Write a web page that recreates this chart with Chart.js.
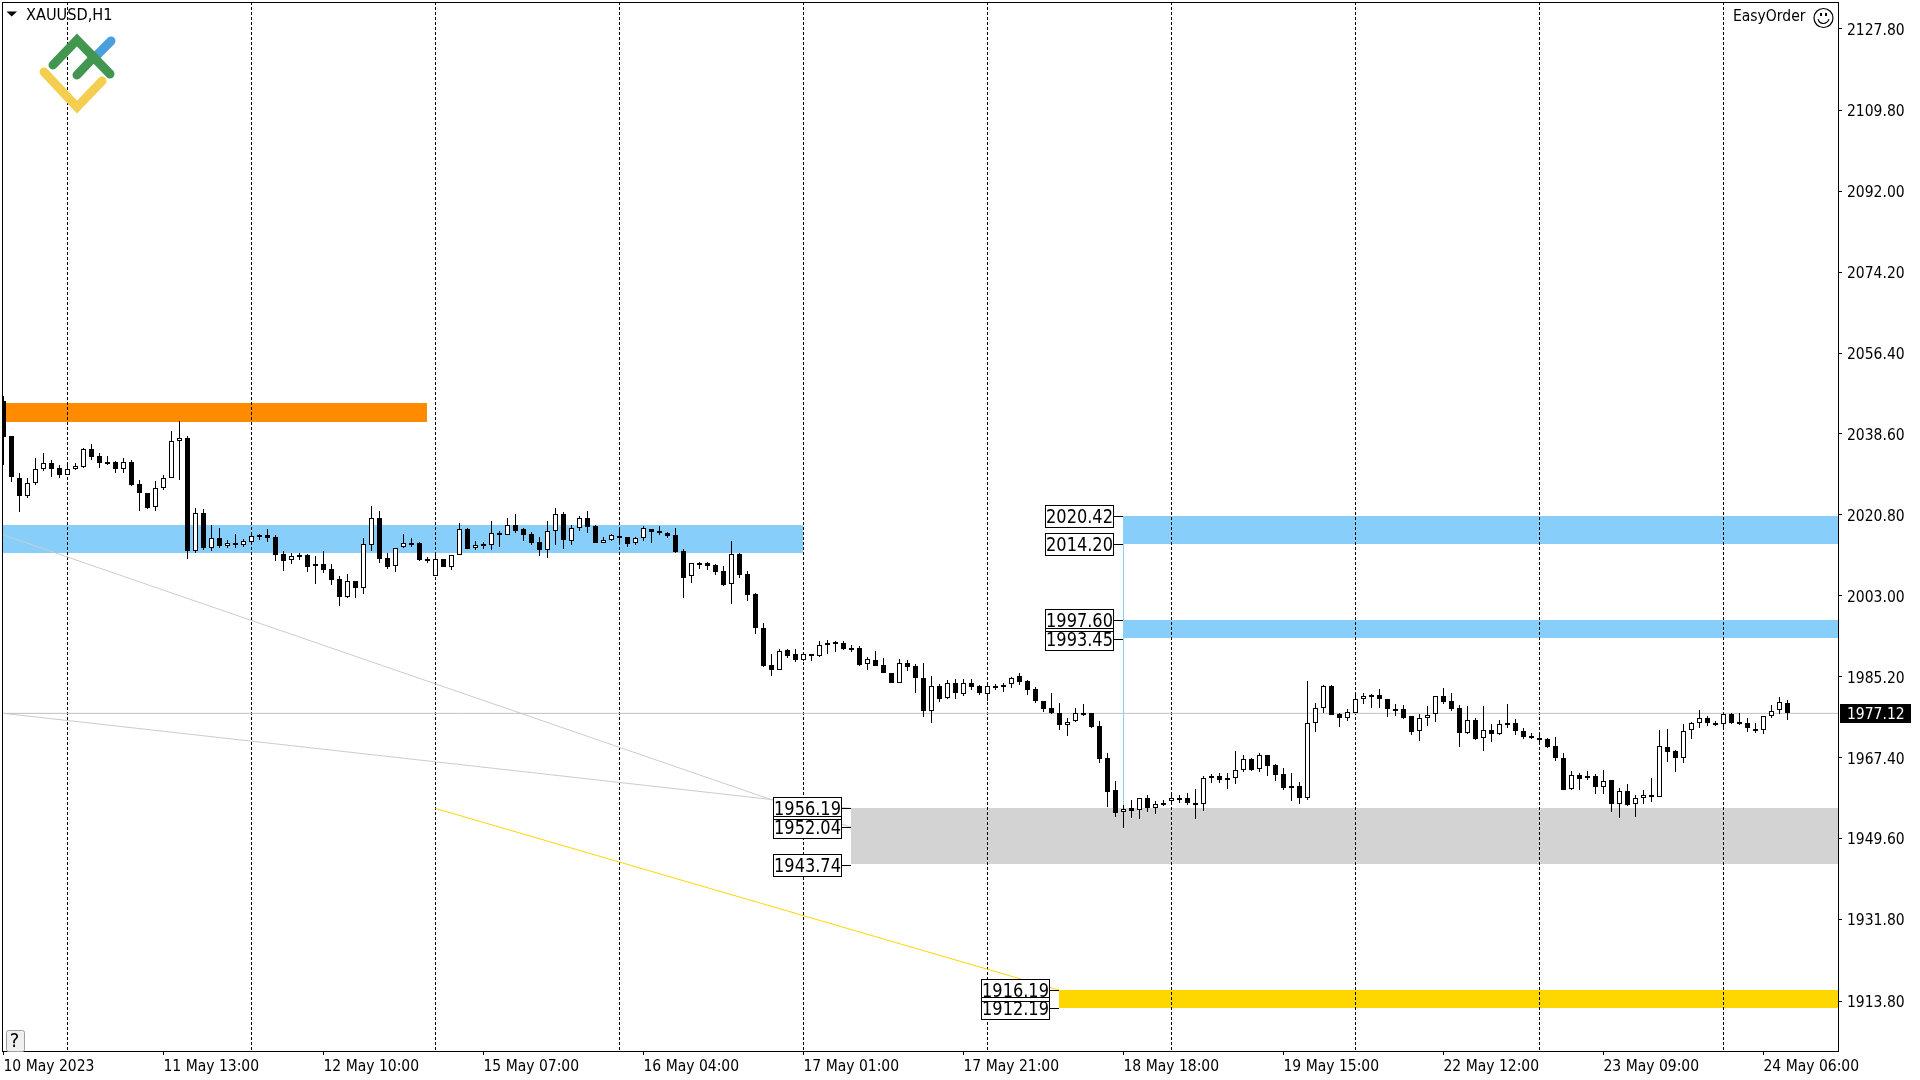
<!DOCTYPE html>
<html>
<head>
<meta charset="utf-8">
<title>XAUUSD,H1</title>
<script src="https://cdn.jsdelivr.net/npm/chart.js@4/dist/chart.umd.min.js"></script>
<style>
  html, body { margin: 0; padding: 0; background: #fff; }
  canvas { display: block; }
</style>
</head>
<body>
<canvas id="priceChart" width="1920" height="1080"></canvas>
<script>
// H1 candles, bar 0 is the left edge
const opens = [
  2045.8, 2038.1, 2029.0, 2025.0, 2027.9, 2030.9, 2032.1, 2031.0, 2029.6, 2030.8,
  2031.4, 2035.2, 2033.7, 2032.4, 2032.4, 2030.9, 2032.4, 2027.5, 2025.5, 2022.6,
  2026.8, 2029.0, 2037.0, 2037.6, 2012.8, 2021.3, 2013.6, 2015.8, 2014.0, 2014.5,
  2014.2, 2014.9, 2016.4, 2016.4, 2015.9, 2012.2, 2010.8, 2012.0, 2012.0, 2010.0,
  2010.0, 2008.9, 2006.6, 2002.8, 2006.2, 2004.8, 2014.1, 2020.0, 2011.4, 2009.5,
  2013.7, 2014.6, 2014.5, 2011.0, 2007.4, 2011.0, 2009.4, 2012.0, 2017.6, 2013.4,
  2014.4, 2014.2, 2016.8, 2016.4, 2018.5, 2017.6, 2016.6, 2014.8, 2013.1, 2017.2,
  2021.0, 2015.1, 2017.8, 2020.2, 2018.3, 2014.7, 2015.2, 2016.1, 2015.9, 2014.5,
  2015.6, 2017.6, 2017.2, 2016.9, 2016.3, 2012.8, 2007.3, 2010.2, 2010.1, 2009.7,
  2008.4, 2005.5, 2012.1, 2007.8, 2003.3, 1996.0, 1987.7, 1986.7, 1991.0, 1990.1,
  1988.8, 1990.1, 1989.7, 1992.1, 1992.8, 1992.7, 1991.5, 1991.4, 1987.9, 1988.8,
  1987.7, 1986.1, 1983.9, 1988.2, 1987.5, 1984.8, 1977.6, 1983.1, 1980.4, 1983.9,
  1981.4, 1983.9, 1983.1, 1981.3, 1983.1, 1982.9, 1983.5, 1985.3, 1984.2, 1982.4,
  1979.8, 1978.2, 1977.3, 1974.6, 1975.4, 1977.3, 1977.1, 1974.3, 1967.2, 1960.2,
  1955.5, 1956.2, 1955.8, 1958.6, 1956.4, 1957.5, 1957.8, 1958.4, 1958.4, 1957.5,
  1957.1, 1962.8, 1963.3, 1962.8, 1962.8, 1964.6, 1967.0, 1964.8, 1967.9, 1965.7,
  1963.7, 1961.1, 1961.1, 1958.6, 1974.9, 1978.4, 1983.1, 1976.9, 1976.2, 1977.3,
  1980.2, 1981.2, 1981.1, 1980.2, 1978.1, 1978.0, 1976.5, 1973.2, 1976.2, 1976.9,
  1980.9, 1979.8, 1978.2, 1972.9, 1975.6, 1971.6, 1973.4, 1972.5, 1974.5, 1975.1,
  1973.2, 1972.1, 1971.8, 1971.4, 1969.9, 1967.2, 1960.4, 1963.6, 1962.8, 1963.3,
  1961.0, 1962.5, 1957.2, 1960.0, 1957.1, 1958.4, 1959.1, 1958.8, 1969.7, 1968.8,
  1967.4, 1973.4, 1974.9, 1976.2, 1975.1, 1974.7, 1976.9, 1975.2, 1975.1, 1973.6,
  1973.4, 1976.5, 1977.8, 1979.5
];
const highs = [
  2046.9, 2038.1, 2029.9, 2028.8, 2033.4, 2034.3, 2032.8, 2031.7, 2031.7, 2032.1,
  2035.4, 2036.3, 2034.3, 2033.7, 2032.6, 2033.2, 2032.8, 2028.5, 2025.7, 2028.2,
  2029.6, 2039.2, 2041.4, 2038.1, 2022.2, 2022.0, 2018.5, 2017.9, 2015.2, 2016.5,
  2015.4, 2016.3, 2016.5, 2017.6, 2016.3, 2012.8, 2012.3, 2012.3, 2012.2, 2011.7,
  2012.8, 2010.0, 2007.3, 2007.8, 2006.2, 2015.8, 2022.7, 2021.6, 2012.3, 2013.6,
  2016.5, 2015.6, 2014.8, 2011.5, 2012.0, 2011.0, 2012.0, 2019.0, 2017.8, 2015.0,
  2014.8, 2019.4, 2017.2, 2020.1, 2021.0, 2017.9, 2017.0, 2015.9, 2019.4, 2022.2,
  2021.4, 2018.5, 2020.5, 2021.6, 2018.5, 2015.9, 2016.6, 2017.6, 2015.9, 2015.9,
  2018.3, 2017.6, 2018.3, 2017.0, 2017.9, 2013.2, 2010.3, 2010.5, 2010.4, 2010.0,
  2009.5, 2015.0, 2012.5, 2008.4, 2003.7, 1997.1, 1990.2, 1991.3, 1991.2, 1991.2,
  1990.3, 1990.1, 1993.0, 1993.3, 1993.0, 1993.0, 1992.2, 1991.9, 1989.5, 1990.8,
  1989.3, 1986.1, 1989.1, 1988.9, 1988.0, 1988.2, 1985.3, 1983.6, 1984.4, 1984.6,
  1984.6, 1984.6, 1983.3, 1983.3, 1983.6, 1983.7, 1985.2, 1986.1, 1984.4, 1982.9,
  1979.8, 1981.5, 1979.5, 1976.2, 1978.2, 1979.1, 1977.2, 1975.4, 1968.3, 1962.2,
  1956.9, 1958.0, 1958.6, 1959.2, 1957.8, 1958.0, 1959.5, 1959.2, 1959.7, 1960.5,
  1963.3, 1963.7, 1964.1, 1963.9, 1968.8, 1968.0, 1967.4, 1968.3, 1968.0, 1965.9,
  1965.1, 1964.0, 1962.0, 1984.2, 1979.4, 1983.4, 1983.4, 1977.3, 1978.0, 1981.8,
  1981.5, 1981.4, 1982.5, 1980.3, 1979.2, 1978.9, 1976.5, 1976.9, 1978.7, 1980.9,
  1982.7, 1981.6, 1978.9, 1978.7, 1976.0, 1978.7, 1974.8, 1975.6, 1979.2, 1975.8,
  1973.8, 1972.8, 1972.8, 1971.6, 1971.9, 1968.5, 1964.4, 1964.1, 1964.4, 1963.7,
  1964.7, 1962.5, 1960.8, 1961.6, 1959.1, 1960.2, 1962.9, 1973.5, 1973.7, 1969.1,
  1974.8, 1975.2, 1977.9, 1976.5, 1975.4, 1977.3, 1977.3, 1977.2, 1976.0, 1975.0,
  1976.5, 1978.9, 1980.7, 1980.0
];
const lows = [
  2031.8, 2028.1, 2021.5, 2024.6, 2027.4, 2030.4, 2029.2, 2029.0, 2029.5, 2030.7,
  2031.2, 2032.9, 2031.2, 2031.8, 2030.1, 2030.1, 2027.1, 2021.7, 2022.0, 2021.7,
  2026.3, 2028.8, 2028.5, 2011.1, 2012.5, 2013.1, 2012.8, 2013.6, 2013.6, 2013.6,
  2013.7, 2014.7, 2015.3, 2014.8, 2010.6, 2008.4, 2010.0, 2010.9, 2008.3, 2005.6,
  2008.1, 2005.4, 2000.7, 2002.5, 2002.5, 2003.4, 2012.8, 2010.1, 2008.9, 2008.3,
  2013.4, 2013.8, 2010.7, 2010.3, 2007.3, 2009.3, 2008.7, 2012.0, 2013.3, 2013.1,
  2013.3, 2013.1, 2013.7, 2016.4, 2016.9, 2015.0, 2014.2, 2011.7, 2011.4, 2014.2,
  2013.3, 2014.2, 2017.2, 2016.8, 2014.6, 2014.5, 2015.0, 2014.5, 2013.7, 2014.2,
  2015.1, 2014.6, 2016.4, 2015.7, 2012.5, 2002.5, 2005.8, 2008.9, 2008.7, 2007.6,
  2005.1, 2001.2, 2006.9, 2001.8, 1994.6, 1987.4, 1985.3, 1986.7, 1989.4, 1988.5,
  1988.6, 1988.6, 1989.6, 1990.1, 1990.7, 1991.1, 1990.6, 1987.6, 1986.7, 1987.6,
  1985.9, 1983.9, 1983.7, 1986.5, 1981.6, 1976.3, 1975.1, 1979.7, 1980.2, 1980.3,
  1981.0, 1982.2, 1981.2, 1979.8, 1982.3, 1981.9, 1982.6, 1983.4, 1981.2, 1979.5,
  1977.4, 1977.0, 1973.5, 1972.1, 1975.2, 1976.5, 1973.8, 1966.3, 1956.5, 1954.3,
  1951.9, 1954.1, 1953.9, 1955.4, 1955.0, 1956.8, 1957.2, 1957.5, 1957.0, 1953.9,
  1955.6, 1961.8, 1961.8, 1960.5, 1961.6, 1964.3, 1964.5, 1964.3, 1963.3, 1962.2,
  1960.3, 1957.8, 1957.2, 1958.1, 1973.0, 1977.2, 1976.8, 1974.1, 1975.4, 1977.1,
  1979.2, 1978.3, 1978.3, 1976.3, 1976.6, 1975.9, 1972.4, 1971.0, 1974.3, 1975.2,
  1979.2, 1977.6, 1969.7, 1972.6, 1971.3, 1968.8, 1970.8, 1972.4, 1973.9, 1972.4,
  1971.5, 1971.5, 1970.6, 1969.5, 1966.6, 1960.3, 1960.3, 1960.3, 1962.5, 1959.4,
  1959.4, 1955.4, 1954.1, 1956.8, 1954.4, 1957.2, 1957.6, 1958.8, 1966.4, 1964.2,
  1966.2, 1971.5, 1973.9, 1974.3, 1974.3, 1974.2, 1974.7, 1974.6, 1973.0, 1972.8,
  1972.6, 1976.2, 1977.0, 1975.7
];
const closes = [
  2038.0, 2029.2, 2025.0, 2027.9, 2030.9, 2032.3, 2030.9, 2029.6, 2030.8, 2031.5,
  2035.2, 2033.6, 2032.3, 2032.0, 2030.9, 2032.4, 2027.4, 2025.7, 2022.4, 2026.8,
  2029.0, 2037.0, 2037.6, 2012.9, 2021.3, 2013.6, 2015.8, 2014.0, 2014.5, 2014.2,
  2015.0, 2016.1, 2016.1, 2015.8, 2012.0, 2010.7, 2011.7, 2011.6, 2009.4, 2009.7,
  2008.7, 2006.5, 2002.8, 2006.2, 2004.8, 2014.3, 2020.0, 2011.1, 2009.4, 2013.6,
  2014.5, 2014.4, 2010.9, 2010.7, 2011.0, 2009.3, 2011.9, 2017.6, 2013.3, 2014.1,
  2014.1, 2016.9, 2016.4, 2018.5, 2017.2, 2016.4, 2014.6, 2013.1, 2017.2, 2020.9,
  2015.3, 2017.8, 2020.2, 2018.2, 2014.6, 2015.2, 2016.3, 2015.8, 2014.4, 2015.6,
  2017.8, 2017.1, 2016.8, 2016.1, 2012.6, 2007.0, 2010.1, 2010.0, 2009.5, 2008.2,
  2005.4, 2012.1, 2007.6, 2003.2, 1996.0, 1987.5, 1986.7, 1990.8, 1989.8, 1988.9,
  1990.1, 1989.7, 1992.1, 1992.7, 1992.7, 1991.3, 1991.3, 1987.8, 1989.0, 1987.6,
  1986.1, 1983.9, 1988.1, 1987.4, 1984.8, 1977.7, 1983.1, 1980.3, 1983.9, 1981.7,
  1983.9, 1983.0, 1981.7, 1983.1, 1982.8, 1983.4, 1985.0, 1984.1, 1982.3, 1979.8,
  1978.1, 1977.3, 1974.6, 1975.3, 1977.3, 1977.0, 1974.2, 1967.0, 1959.9, 1955.3,
  1956.0, 1955.7, 1958.6, 1956.4, 1957.2, 1957.2, 1958.6, 1958.2, 1957.4, 1957.0,
  1962.8, 1963.3, 1962.5, 1962.5, 1964.6, 1967.0, 1964.7, 1967.9, 1965.6, 1963.6,
  1960.7, 1960.8, 1958.6, 1974.9, 1978.4, 1983.1, 1976.8, 1976.2, 1977.5, 1980.2,
  1980.9, 1980.9, 1980.2, 1978.1, 1977.9, 1976.1, 1973.1, 1976.2, 1976.8, 1980.9,
  1979.7, 1978.1, 1972.9, 1975.6, 1971.5, 1973.4, 1972.5, 1974.7, 1975.1, 1973.2,
  1972.0, 1971.8, 1971.3, 1969.8, 1967.2, 1960.3, 1963.6, 1962.7, 1963.3, 1961.0,
  1962.3, 1957.2, 1960.0, 1957.0, 1958.4, 1959.1, 1958.8, 1969.9, 1968.7, 1967.4,
  1973.2, 1974.9, 1976.2, 1974.9, 1974.9, 1976.9, 1974.9, 1975.0, 1973.8, 1973.3,
  1976.5, 1977.6, 1979.6, 1977.1
];

// axis labels
const timeLabels = ['10 May 2023', '11 May 13:00', '12 May 10:00', '15 May 07:00', '16 May 04:00', '17 May 01:00',
  '17 May 21:00', '18 May 18:00', '19 May 15:00', '22 May 12:00', '23 May 09:00', '24 May 06:00'];
const timeLabelBars = [0, 20, 40, 60, 80, 100, 120, 140, 160, 180, 200, 220];
const separatorBars = [8, 31, 54, 77, 100, 123, 146, 169, 192, 215];
const priceTicks = [2127.80, 2109.80, 2092.00, 2074.20, 2056.40, 2038.60, 2020.80, 2003.00, 1985.20, 1967.40, 1949.60, 1931.80, 1913.80];
const lastPrice = 1977.12;

// supply and demand zones
const zoneFromBar = [0, 0, 140, 140, 106, 132];
const zoneToBar = [53, 100, 230, 230, 230, 230];
const zoneTop = [2045.3, 2018.5, 2020.42, 1997.60, 1956.19, 1916.19];
const zoneBottom = [2041.1, 2012.3, 2014.20, 1993.6, 1943.9, 1912.19];
const zoneColors = ['#ff8c00', '#87cefa', '#87cefa', '#87cefa', '#d3d3d3', '#ffd700'];

// price tags next to the zones
const tagPrices = [2020.42, 2014.20, 1997.60, 1993.45, 1956.19, 1952.04, 1943.74, 1916.19, 1912.19];
const tagBars = [140, 140, 140, 140, 106, 106, 106, 132, 132];

const FONT = "'DejaVu Sans Condensed', 'DejaVu Sans', sans-serif";
const barIndex = opens.map((_, i) => i);

function segment(x1, y1, x2, y2, color, order) {
  return {
    type: 'line',
    data: [{ x: x1, y: y1 }, { x: x2, y: y2 }],
    borderColor: color,
    borderWidth: 1,
    pointRadius: 0,
    order: order
  };
}

// Zones go under the grid so the dashes stay visible on them
const zonePlugin = {
  id: 'zones',
  beforeDraw(chart) {
    const { ctx, scales: { x, y } } = chart;
    ctx.save();
    ctx.fillStyle = '#fff';
    ctx.fillRect(0, 0, chart.width, chart.height);
    ctx.beginPath();
    ctx.rect(chart.chartArea.left + 1, chart.chartArea.top, chart.chartArea.width, chart.chartArea.height);
    ctx.clip();
    zoneColors.forEach((color, i) => {
      const left = Math.floor(x.getPixelForValue(zoneFromBar[i]));
      const right = Math.floor(x.getPixelForValue(zoneToBar[i]));
      const top = Math.floor(y.getPixelForValue(zoneTop[i]));
      const bottom = Math.floor(y.getPixelForValue(zoneBottom[i]));
      ctx.fillStyle = color;
      ctx.fillRect(left, top, right - left, bottom - top);
    });
    ctx.restore();

    // price labels sit a little lower than the tick in the terminal
    const items = y.getLabelItems();
    if (!items.shifted) {
      items.forEach(item => { item.options.translation[1] += 2; });
      items.shifted = true;
    }
  }
};

// Snap candles to whole pixels, the terminal draws them without antialiasing
const snapPlugin = {
  id: 'snap',
  beforeDatasetsDraw(chart) {
    chart.getSortedVisibleDatasetMetas().forEach(meta => {
      if (meta.type !== 'bar') return;
      meta.data.forEach(bar => {
        const top = Math.round(Math.min(bar.y, bar.base));
        let bottom = Math.round(Math.max(bar.y, bar.base));
        if (bottom - top < 2) bottom = top + 2;
        bar.y = top;
        bar.base = bottom;
        bar.height = bottom - top;
      });
    });
  }
};

const overlayPlugin = {
  id: 'overlay',
  afterDatasetsDraw(chart) {
    drawTags(chart);
    drawLogo(chart.ctx);
  },
  afterDraw(chart) {
    const { ctx, scales: { y } } = chart;
    ctx.save();
    // frame
    ctx.strokeStyle = '#000';
    ctx.lineWidth = 1;
    ctx.strokeRect(2.5, 2.5, 1836, 1049);

    // symbol
    ctx.fillStyle = '#000';
    ctx.beginPath();
    ctx.moveTo(6.5, 11.5);
    ctx.lineTo(17, 11.5);
    ctx.lineTo(11.7, 16.5);
    ctx.closePath();
    ctx.fill();
    ctx.font = '16.2px ' + FONT;
    ctx.textBaseline = 'middle';
    ctx.fillText('XAUUSD,H1', 26, 15.5);

    // EasyOrder
    ctx.font = '15.5px ' + FONT;
    ctx.fillText('EasyOrder', 1733, 16.5);
    ctx.lineWidth = 1.2;
    ctx.beginPath();
    ctx.arc(1823.5, 18, 9.5, 0, Math.PI * 2);
    ctx.stroke();
    ctx.beginPath();
    ctx.arc(1823.5, 18, 5.5, 0.2, Math.PI - 0.2);
    ctx.stroke();
    ctx.fillRect(1820, 13, 2, 3);
    ctx.fillRect(1825, 13, 2, 3);

    // help button
    ctx.fillStyle = '#f0f0f0';
    ctx.strokeStyle = '#a0a0a0';
    ctx.lineWidth = 1;
    ctx.beginPath();
    ctx.roundRect(6.5, 1030.5, 18, 21, 2);
    ctx.fill();
    ctx.stroke();
    ctx.fillStyle = '#000';
    ctx.textAlign = 'center';
    ctx.font = '20px ' + FONT;
    ctx.fillText('?', 14.5, 1042);

    // last price flag
    const py = Math.round(y.getPixelForValue(lastPrice));
    ctx.fillStyle = '#000';
    ctx.fillRect(1840, py - 9, 71, 19);
    ctx.fillStyle = '#fff';
    ctx.textAlign = 'left';
    ctx.font = '15.5px ' + FONT;
    ctx.fillText(lastPrice.toFixed(2), 1847, py + 2);
    ctx.restore();
  }
};

function drawTags(chart) {
  const { ctx, scales: { x, y } } = chart;
  const boxes = tagPrices.map((price, i) => {
    const anchor = Math.floor(x.getPixelForValue(tagBars[i]));
    return { anchor: anchor, right: anchor - 10, mid: Math.floor(y.getPixelForValue(price)), text: price.toFixed(2) };
  });
  ctx.save();
  ctx.lineWidth = 1;
  ctx.strokeStyle = '#000';
  ctx.fillStyle = '#fff';
  boxes.forEach(b => ctx.fillRect(b.right - 68, b.mid - 11, 68, 22));
  boxes.forEach(b => {
    ctx.strokeRect(b.right - 67.5, b.mid - 10.5, 68, 22);
    ctx.beginPath();
    ctx.moveTo(b.right, b.mid + 0.5);
    ctx.lineTo(b.anchor, b.mid + 0.5);
    ctx.stroke();
  });
  ctx.fillStyle = '#000';
  ctx.font = '18px ' + FONT;
  ctx.textBaseline = 'middle';
  ctx.textAlign = 'center';
  boxes.forEach(b => {
    // the tag digits are taller than the condensed font
    ctx.save();
    ctx.translate(b.right - 33.5, b.mid + 2);
    ctx.scale(1, 1.09);
    ctx.fillText(b.text, 0, 0);
    ctx.restore();
  });
  ctx.restore();
}

function drawLogo(ctx) {
  const stroke = (color, points) => {
    ctx.strokeStyle = color;
    ctx.beginPath();
    points.forEach((p, i) => (i ? ctx.lineTo(p[0], p[1]) : ctx.moveTo(p[0], p[1])));
    ctx.stroke();
  };
  ctx.save();
  ctx.lineWidth = 9;
  ctx.lineCap = 'round';
  ctx.lineJoin = 'miter';
  stroke('#4a9fdd', [[94, 58], [111, 41]]);
  stroke('#f4ce4e', [[44, 72], [77, 107], [102, 81]]);
  stroke('#43964f', [[53, 65], [77, 40], [110, 74]]);
  stroke('#43964f', [[77, 75], [94, 57]]);
  ctx.restore();
}

const chart = new Chart(document.getElementById('priceChart'), {
  type: 'bar',
  data: {
    datasets: [
      {
        label: 'body',
        data: barIndex.map(i => ({ x: i, y: [opens[i], closes[i]] })),
        backgroundColor: ctx => (closes[ctx.dataIndex] >= opens[ctx.dataIndex] ? '#fff' : '#000'),
        borderColor: '#000',
        borderWidth: 1,
        borderSkipped: false,
        inflateAmount: 0,
        barThickness: 5,
        grouped: false,
        order: 1
      },
      {
        label: 'wick',
        data: barIndex.map(i => ({ x: i, y: [lows[i], highs[i]] })),
        backgroundColor: '#000',
        borderWidth: 0,
        inflateAmount: 0,
        barThickness: 1,
        grouped: false,
        order: 2
      },
      segment(0, lastPrice, 230, lastPrice, '#c0c0c0', 3),
      segment(0, 2016.36, 106, 1952.04, '#cccccc', 3),
      segment(0, 1977.12, 106, 1956.19, '#cccccc', 3),
      segment(54, 1956.19, 132, 1916.19, '#ffd700', 3),
      segment(140, 2020.42, 140, 1956.19, '#87cefa', 3)
    ]
  },
  options: {
    responsive: false,
    animation: false,
    events: [],
    layout: { autoPadding: false, padding: { left: 2, top: 2, right: 0, bottom: 0 } },
    plugins: { legend: { display: false }, tooltip: { enabled: false } },
    scales: {
      x: {
        type: 'linear',
        offset: false,
        min: -0.1875,
        max: 229.3125,
        position: 'bottom',
        grid: { offset: false, drawOnChartArea: false, drawTicks: true, tickLength: 4, tickColor: '#000' },
        border: { display: false },
        afterBuildTicks: axis => { axis.ticks = timeLabelBars.map(v => ({ value: v })); },
        afterFit: axis => { axis.height = 29; axis.paddingLeft = 0; axis.paddingRight = 0; },
        ticks: {
          autoSkip: false,
          maxRotation: 0,
          minRotation: 0,
          align: 'start',
          padding: 3,
          color: '#000',
          font: { family: FONT, size: 15.5 },
          callback: (value, i) => timeLabels[i]
        }
      },
      separators: {
        type: 'linear',
        offset: false,
        min: -0.1875,
        max: 229.3125,
        position: 'bottom',
        grid: { offset: false, color: '#000', lineWidth: 1, drawTicks: false },
        border: { display: false, dash: [3, 2] },
        afterBuildTicks: axis => { axis.ticks = separatorBars.map(v => ({ value: v })); },
        afterFit: axis => { axis.height = 0; axis.paddingLeft = 0; axis.paddingRight = 0; },
        ticks: { display: false }
      },
      y: {
        type: 'linear',
        position: 'right',
        min: 1902.83,
        max: 2133.63,
        grid: { drawOnChartArea: false, drawTicks: true, tickLength: 4, tickColor: '#000' },
        border: { display: false },
        afterBuildTicks: axis => { axis.ticks = priceTicks.map(v => ({ value: v })); },
        afterFit: axis => { axis.width = 82; axis.paddingTop = 0; axis.paddingBottom = 0; },
        ticks: {
          autoSkip: false,
          padding: 5,
          color: '#000',
          font: { family: FONT, size: 15.5 },
          callback: value => value.toFixed(2)
        }
      }
    }
  },
  plugins: [zonePlugin, snapPlugin, overlayPlugin]
});
</script>
</body>
</html>
